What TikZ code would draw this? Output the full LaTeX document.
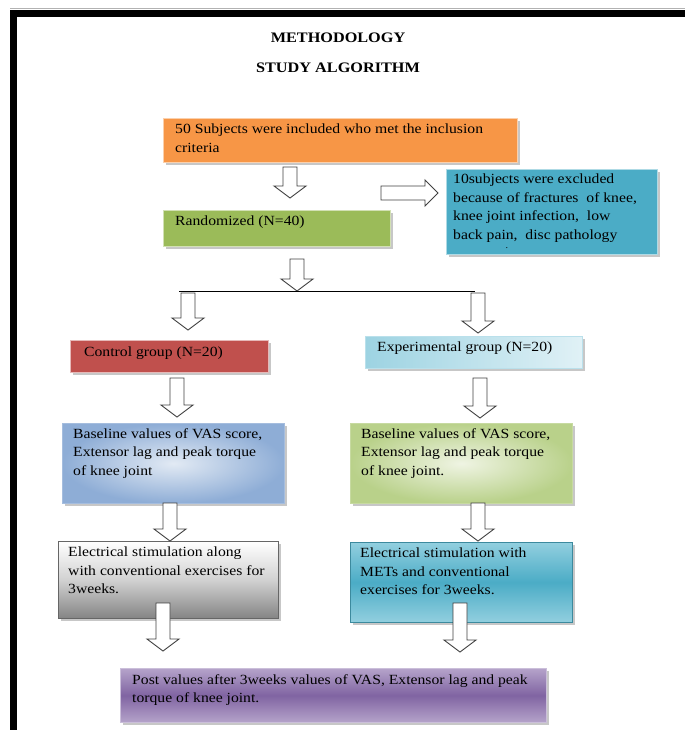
\documentclass[tikz,border=0pt]{standalone}
\usepackage{fontspec}
\setmainfont[FakeStretch=1.12]{Liberation Serif}
\usetikzlibrary{shadows}
\definecolor{orangeF}{HTML}{F79646}
\definecolor{greenF}{HTML}{9BBB59}
\definecolor{blueF}{HTML}{4BACC6}
\definecolor{redF}{HTML}{C0504D}
\definecolor{expA}{HTML}{9DD3E2}
\definecolor{expB}{HTML}{E0F1F6}
\definecolor{baseLA}{HTML}{8EADD6}
\definecolor{baseLB}{HTML}{E2EAF4}
\definecolor{baseRA}{HTML}{B9D18A}
\definecolor{baseRB}{HTML}{EFF4E3}
\definecolor{tealA}{HTML}{92CFDF}
\definecolor{tealB}{HTML}{4BACC6}
\definecolor{purA}{HTML}{B5A3CA}
\definecolor{purB}{HTML}{8064A2}
\begin{document}
\begin{tikzpicture}[x=1pt,y=-1pt,
  box/.style={rectangle, inner sep=0pt, anchor=north west, line width=0.8pt,
    general shadow={fill=black!22, shadow xshift=3pt, shadow yshift=-3pt}},
  txt/.style={anchor=north west, inner sep=0pt, align=left,
    font=\fontsize{14}{18.5}\selectfont, text=black},
  ttl/.style={inner sep=0pt, font=\fontsize{14.5}{17}\selectfont\bfseries},
  blk/.style={draw=black!75, fill=white, line width=0.9pt, line join=miter},
  pics/darr/.style={code={\draw[blk] (-7,0) -- (-7,#1-12) -- (-16,#1-12) -- (0,#1) -- (16,#1-12) -- (7,#1-12) -- (7,0) -- cycle;}},
  pics/rarr/.style={code={\draw[blk] (0,-7) -- (#1-13,-7) -- (#1-13,-13) -- (#1,0) -- (#1-13,13) -- (#1-13,7) -- (0,7) -- cycle;}},
]
\useasboundingbox (0,0) rectangle (685,730);
% page frame
\fill[black!30] (10,8.5) rectangle (685,9.5);
\fill[black] (10,10) rectangle (685,17);
\fill[black] (10,10) rectangle (17,730);

% titles
\node[ttl] (title1) at (338,38) {METHODOLOGY};
\node[ttl] (title2) at (338,68) {STUDY ALGORITHM};

% boxes
\node[box, fill=orangeF, draw=orangeF!45!white, minimum width=354pt, minimum height=44pt] (incl) at (163,118) {};
\node[txt] (inclT) at ([xshift=12pt,yshift=-6pt]incl.north west) {50 Subjects were included who met the inclusion\\criteria};

\node[box, fill=greenF, draw=greenF!45!white, minimum width=227pt, minimum height=36pt] (rand) at (163,210) {};
\node[txt] (randT) at ([xshift=12pt,yshift=-6pt]rand.north west) {Randomized (N=40)};

\node[box, fill=blueF, draw=blueF!45!white, minimum width=211pt, minimum height=85pt] (excl) at (446,169) {};
\node[txt] (exclT) at ([xshift=7pt,yshift=-5pt]excl.north west) {10subjects were excluded\\because of fractures \ of knee,\\knee joint infection, \ low\\back pain, \ disc pathology};
\node[inner sep=0pt, font=\fontsize{9}{9}\selectfont] (exclDot) at (507,248) {.};

\node[box, fill=redF, draw=redF!40!white, minimum width=198pt, minimum height=32pt] (ctrl) at (70,340) {};
\node[txt] (ctrlT) at ([xshift=14pt,yshift=-7pt]ctrl.north west) {Control group (N=20)};

\node[box, left color=expA, right color=expB, draw=expA!70!white, minimum width=217pt, minimum height=32pt] (expt) at (365,336) {};
\node[txt] (exptT) at ([xshift=12pt,yshift=-6pt]expt.north west) {Experimental group (N=20)};

\node[box, shading=radial, inner color=baseLB, outer color=baseLA, draw=baseLA!80!white, minimum width=222pt, minimum height=80pt] (baseL) at (62,423) {};
\node[txt] (baseLT) at ([xshift=11pt,yshift=-5pt]baseL.north west) {Baseline values of VAS score,\\Extensor lag and peak torque\\of knee joint};

\node[box, shading=radial, inner color=baseRB, outer color=baseRA, draw=baseRA!80!white, minimum width=222pt, minimum height=80pt] (baseR) at (350,423) {};
\node[txt] (baseRT) at ([xshift=11pt,yshift=-5pt]baseR.north west) {Baseline values of VAS score,\\Extensor lag and peak torque\\of knee joint.};

\node[box, top color=white, bottom color=black!48, middle color=black!18, draw=black!60, minimum width=220pt, minimum height=77pt] (elecL) at (58,541) {};
\node[txt] (elecLT) at ([xshift=10pt,yshift=-6pt]elecL.north west) {Electrical stimulation along\\with conventional exercises for\\3weeks.};

\node[box, top color=tealA, bottom color=tealA, middle color=tealB, draw=tealB!80!black, minimum width=222pt, minimum height=80pt] (elecR) at (350,542) {};
\node[txt] (elecRT) at ([xshift=10pt,yshift=-6pt]elecR.north west) {Electrical stimulation with\\METs and conventional\\exercises for 3weeks.};

\node[box, top color=purA, bottom color=purA, middle color=purB, draw=purA!70!white, minimum width=426pt, minimum height=54pt] (post) at (120,668) {};
\node[txt] (postT) at ([xshift=12pt,yshift=-6pt]post.north west) {Post values after 3weeks values of VAS, Extensor lag and peak\\torque of knee joint.};

% block arrows
\pic at (290,167) {darr=31};
\pic at (381,193) {rarr=57};
\pic at (297,259) {darr=32};
\coordinate (splitL) at (179,291);
\coordinate (splitR) at (475,291);
\draw[line width=1pt, black] (splitL) -- (splitR);
\pic at (188,293) {darr=37};
\pic at (478,293) {darr=40};
\pic at (177,378) {darr=39};
\pic at (480,378) {darr=40};
\pic at (170,503) {darr=38};
\pic at (478,503) {darr=38};
\pic at (163,603) {darr=48};
\pic at (460,603) {darr=49};
\end{tikzpicture}
\end{document}
